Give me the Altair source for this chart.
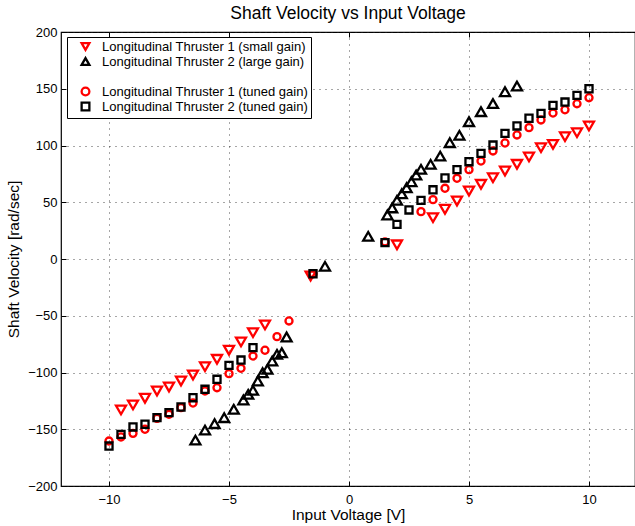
import altair as alt
import pandas as pd

S1 = "Longitudinal Thruster 1 (small gain)"
S2 = "Longitudinal Thruster 2 (large gain)"
BLANK = " "
T1 = "Longitudinal Thruster 1 (tuned gain)"
T2 = "Longitudinal Thruster 2 (tuned gain)"

# Thruster 1, small gain
small_v = [-9.5, -9.0, -8.5, -8.0, -7.5, -7.0, -6.5, -6.0, -5.5, -5.0, -4.5, -4.0, -3.5, -1.6,
           2.0, 3.5, 4.0, 4.5, 5.0, 5.5, 6.0, 6.5, 7.0, 7.5, 8.0, 8.5, 9.0, 9.5, 10.0]
small_w = [-133, -128.6, -122.7, -116.3, -112.8, -107.5, -102.2, -94.9, -88.4, -80.4, -73.1, -64.9, -58.1, -15,
           12.5, 36.4, 43.8, 51.1, 59.9, 65.8, 71.6, 77.5, 83.4, 89.9, 98.1, 101, 107.8, 111.3, 117.2]

# Thruster 2, large gain
large_v = [-6.4, -6.0, -5.6, -5.2, -4.8, -4.4, -4.2, -4.0, -3.8, -3.6, -3.4, -3.2, -3.0, -2.8, -2.6, -1.0,
           0.8, 1.6, 1.8, 2.0, 2.2, 2.4, 2.6, 2.8, 3.0, 3.4, 3.8, 4.2, 4.6, 5.0, 5.5, 6.0, 6.5, 7.0]
large_w = [-159.5, -150.7, -145.1, -139.8, -132.4, -124.2, -119.2, -115.7, -107.5, -100.2, -97.2, -89.9, -84, -82.6, -68.7, -6.5,
           20, 38.8, 45, 51.7, 57.5, 62.8, 68.1, 74, 79, 83.4, 90.7, 102.5, 109, 121, 129.8, 137, 147.4, 152.4]

# Thruster 1, tuned gain
tuned1_v = [-10.0, -9.5, -9.0, -8.5, -8.0, -7.5, -7.0, -6.5, -6.0, -5.5, -5.0, -4.5, -4.0, -3.5, -3.0, -2.5, -1.5,
            1.5, 3.0, 3.5, 4.0, 4.5, 5.0, 5.5, 6.0, 6.5, 7.0, 7.5, 8.0, 8.5, 9.0, 9.5, 10.0]
tuned1_w = [-160.4, -156.8, -153.6, -150, -140.4, -136.8, -131, -126.9, -116.3, -113.4, -101, -96.3, -85.5, -80.4, -68.4, -54.6, -13,
            15, 41.7, 52.3, 62.3, 71.1, 78.7, 86.3, 95.2, 102.2, 109.3, 115.7, 122.5, 128.6, 131.5, 136.8, 142.1]

# Thruster 2, tuned gain
tuned2_v = [-10.0, -9.5, -9.0, -8.5, -8.0, -7.5, -7.0, -6.5, -6.0, -5.5, -5.0, -4.5, -4.0, -1.5,
            1.5, 2.0, 2.5, 3.0, 3.5, 4.0, 4.5, 5.0, 5.5, 6.0, 6.5, 7.0, 7.5, 8.0, 8.5, 9.0, 9.5, 10.0]
tuned2_w = [-164.8, -154.5, -148, -145.6, -139.8, -135.4, -130.4, -122.2, -114.8, -106, -93.7, -89, -78.1, -13,
            14.4, 30.5, 43.2, 51.7, 61, 71.4, 78.7, 85.7, 93.1, 100.4, 110.7, 117.2, 124, 128.3, 135.4, 138.3, 144.2, 150]

x_ticks = [-10, -5, 0, 5, 10]
y_ticks = [-200, -150, -100, -50, 0, 50, 100, 150, 200]


def frame(items):
    rows = []
    for name, vs, ws in items:
        for v, w in zip(vs, ws):
            rows.append({"volt": v, "vel": w, "series": name})
    return pd.DataFrame(rows)


df_tri = frame([(S1, small_v, small_w), (S2, large_v, large_w)])
df_oth = frame([(T1, tuned1_v, tuned1_w), (T2, tuned2_v, tuned2_w)])

FONT = "Liberation Sans"
dom = [S1, S2, BLANK, T1, T2]

xscale = alt.Scale(domain=[-12, 11.917], nice=False, zero=False)
yscale = alt.Scale(domain=[-200, 200], nice=False, zero=False)

axis_common = dict(
    labelFont=FONT, labelFontSize=13, labelColor="black",
    titleFont=FONT, titleFontSize=15.5, titleFontWeight="normal", titleColor="black",
    tickColor="black", tickWidth=1,
    gridColor="#222222", gridDash=[1, 5], gridWidth=1, gridOpacity=0.8,
    domain=False, tickSize=5, offset=-5,
)

legend_common = dict(
    title=None, orient="none", legendX=6, legendY=5,
    labelFont=FONT, labelFontSize=13, labelColor="black",
    strokeColor="black", fillColor="white", padding=3, cornerRadius=0,
    symbolSize=60, symbolStrokeWidth=2.3, rowPadding=-3, symbolOffset=9, labelOffset=10,
    labelLimit=400,
)

color_enc = alt.Color("series:N", scale=alt.Scale(domain=dom,
                      range=["#ff0000", "#000000", "transparent", "#ff0000", "#000000"]),
                      legend=alt.Legend(**legend_common))
shape_enc = alt.Shape("series:N", scale=alt.Scale(domain=dom,
                      range=["triangle-down", "triangle-up", "circle", "circle", "square"]),
                      legend=alt.Legend(**legend_common))

x_enc = alt.X("volt:Q", scale=xscale,
              axis=alt.Axis(values=x_ticks, title="Input Voltage [V]", grid=True,
                            labelPadding=7, titlePadding=1, **axis_common))
y_enc = alt.Y("vel:Q", scale=yscale,
              axis=alt.Axis(values=y_ticks, title="Shaft Velocity [rad/sec]", grid=True,
                            labelPadding=4, titlePadding=6, **axis_common))

tri = alt.Chart(df_tri).mark_point(filled=False, strokeWidth=2.3, opacity=1, size=100).encode(
    x=x_enc, y=y_enc, color=color_enc, shape=shape_enc)

oth = alt.Chart(df_oth).mark_point(filled=False, strokeWidth=2.3, opacity=1, size=50).encode(
    x=x_enc, y=y_enc, color=color_enc, shape=shape_enc)

toptick = alt.Chart(df_tri).mark_point(opacity=0).encode(
    x=alt.X("volt:Q", scale=xscale,
            axis=alt.Axis(orient="top", values=x_ticks, title=None, labels=False, grid=False,
                          domain=False, tickSize=5, offset=-5, tickColor="black")),
)

main = alt.layer(tri, oth)

chart = alt.layer(main, toptick).resolve_axis(x="independent").properties(
    width=574, height=454,
    background="white",
    autosize=alt.AutoSizeParams(type="none"),
    padding={"left": 61, "top": 32, "right": 0, "bottom": 40},
    title=alt.TitleParams("Shaft Velocity vs Input Voltage", font=FONT, fontSize=17.5,
                          fontWeight="normal", anchor="middle", offset=4, color="black"),
).configure_view(stroke="black", strokeWidth=1.2)

chart.save("out.html", embed_options={"renderer": "svg", "actions": False})
